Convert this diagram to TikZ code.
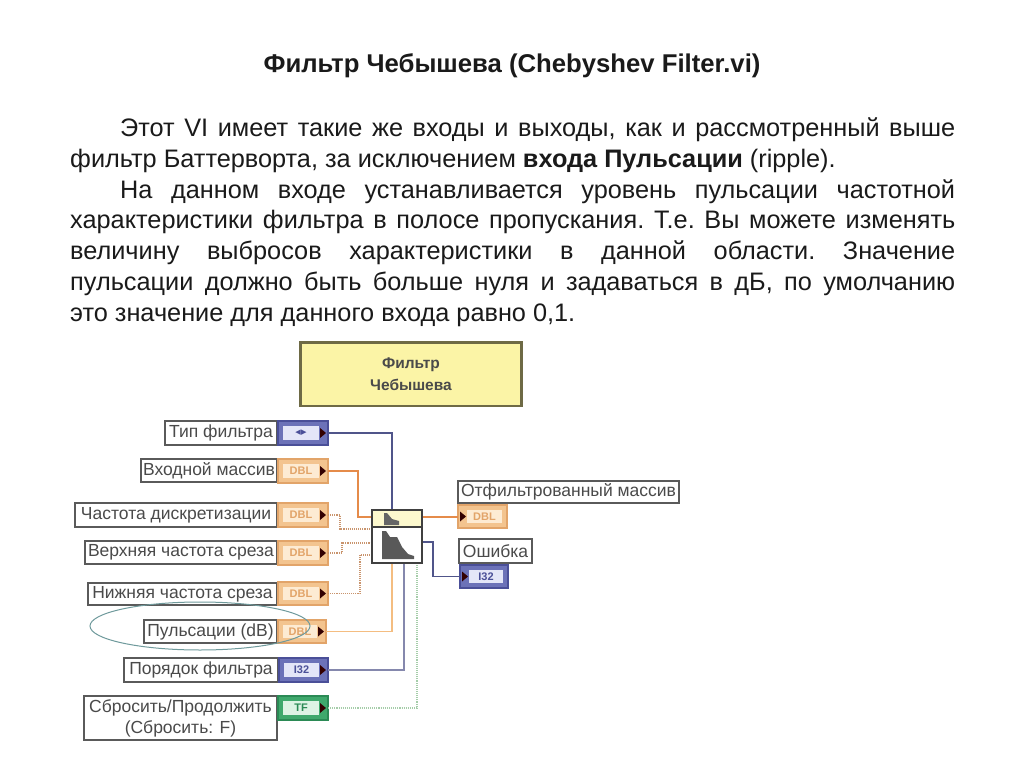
\documentclass[tikz,border=0pt]{standalone}
\usepackage{fontspec}
\usetikzlibrary{shapes.geometric}
\setmainfont{Liberation Sans}
\newfontfamily\djfont{DejaVu Sans}
\definecolor{txt}{HTML}{1A1A1A}
\definecolor{lbl}{HTML}{5A5A5A}
\definecolor{lbltxt}{HTML}{4A4A4A}
\definecolor{orT}{HTML}{F3C48F}
\definecolor{orB}{HTML}{E2A469}
\definecolor{orI}{HTML}{FDEBD3}
\definecolor{orW}{HTML}{E58B4A}
\definecolor{blT}{HTML}{6C72B8}
\definecolor{blB}{HTML}{4A4F98}
\definecolor{blI}{HTML}{E4E6F8}
\definecolor{blW}{HTML}{50558A}
\definecolor{grT}{HTML}{3FA86C}
\definecolor{grB}{HTML}{2B8A55}
\definecolor{grI}{HTML}{DDF3E4}
\definecolor{grW}{HTML}{A5CDA9}
\definecolor{yel}{HTML}{FBF4A6}
\definecolor{ylB}{HTML}{6E6A45}
\definecolor{ell}{HTML}{6F9A9C}
\tikzset{
  x=1pt,y=-1pt,
  lblbox/.style={draw=lbl,line width=1.8pt,fill=white,inner sep=0pt,text=lbltxt,font=\fontsize{17.5}{21}\selectfont,align=center},
  termbox/.style={line width=1.2pt,inner sep=0pt},
  termin/.style={inner sep=0pt,font=\fontsize{11}{12}\selectfont\bfseries},
  wthick/.style={line width=2pt,orW},
  wthin/.style={line width=1.1pt,orW!70!white!85!black,densely dotted},
  wlight/.style={line width=1.8pt,orT!90!orange},
  wblue/.style={line width=1.5pt,blW},
  wblue2/.style={line width=2pt,blW!70!white},
  wgreen/.style={line width=1.1pt,grW,densely dotted},
  tip/.style={fill=black!80!red},
}
% box: name, x0, y0, x1, y1, options, text
\newcommand{\bx}[7]{\node[#6,anchor=north west,outer sep=0pt,minimum width=#4pt-#2pt,minimum height=#5pt-#3pt] (#1) at (#2,#3) {#7};}
% terminal: name, x0,y0,x1,y1, colour prefix, text
\newcommand{\termR}[7]{%
  \bx{#1}{#2}{#3}{#4}{#5}{termbox,draw=#6B,fill=#6T}{}
  \fill[#6I] (#2+5,#3+5) rectangle (#4-9,#5-5);
  \node[termin,text=#6B] at (#2/2+#4/2-2,#3/2+#5/2) {#7};
  \fill[tip] (#4-8,#3/2+#5/2-5) -- (#4-2,#3/2+#5/2) -- (#4-8,#3/2+#5/2+5) -- cycle;
  \coordinate (#1o) at (#4,#3/2+#5/2);}
\newcommand{\termL}[7]{%
  \bx{#1}{#2}{#3}{#4}{#5}{termbox,draw=#6B,fill=#6T}{}
  \fill[#6I] (#2+9,#3+5) rectangle (#4-5,#5-5);
  \node[termin,text=#6B] at (#2/2+#4/2+2,#3/2+#5/2) {#7};
  \fill[tip] (#2+2,#3/2+#5/2-5) -- (#2+8,#3/2+#5/2) -- (#2+2,#3/2+#5/2+5) -- cycle;
  \coordinate (#1i) at (#2,#3/2+#5/2);}
\begin{document}
\begin{tikzpicture}
\useasboundingbox (0,0) rectangle (1024,767);
\fill[white] (0,0) rectangle (1024,767);

\node[text=txt,font=\fontsize{25.7}{30}\selectfont\bfseries] (title) at (512,66) {Фильтр Чебышева (Chebyshev Filter.vi)};

\node[anchor=north west,inner sep=0pt,text width=885pt,align=justify,text=txt,font=\fontsize{25.3}{30.8}\selectfont] (body) at (70,117.5) {%
\setlength{\parindent}{50pt}\setlength{\parskip}{0pt}\frenchspacing\indent
Этот VI имеет такие же входы и выходы, как и рассмотренный выше\linebreak
фильтр Баттерворта, за исключением \textbf{входа Пульсации} (ripple).\par
На данном входе устанавливается уровень пульсации частотной\linebreak
характеристики фильтра в полосе пропускания. Т.е. Вы можете изменять\linebreak
величину выбросов характеристики в данной области. Значение\linebreak
пульсации должно быть больше нуля и задаваться в дБ, по умолчанию\linebreak
это значение для данного входа равно 0,1.\par};

\bx{head}{300.5}{342.5}{521.5}{406}{draw=ylB,line width=2.4pt,fill=yel,inner sep=0pt,text=lbltxt,align=center,font=\fontsize{15.5}{22}\selectfont\bfseries}{Фильтр\\Чебышева}

% input labels
\bx{l1}{165}{421}{277}{445}{lblbox}{Тип фильтра}
\bx{l2}{141}{459}{277}{482}{lblbox}{Входной массив}
\bx{l3}{75}{503}{277}{527}{lblbox}{Частота дискретизации}
\bx{l4}{85}{541}{277}{564}{lblbox}{Верхняя частота среза}
\bx{l5}{88}{583}{277}{605}{lblbox}{Нижняя частота среза}
\bx{l6}{144}{620}{277}{643}{lblbox}{Пульсации (dB)}
\bx{l7}{124}{658}{278}{682}{lblbox}{Порядок фильтра}
\bx{l8}{84}{696}{277}{740}{lblbox}{Сбросить/Продолжить\\(Сбросить: F)}

% input terminals
\termR{t1}{278}{421}{328}{445}{bl}{\djfont ◂▸}
\termR{t2}{278}{459}{328}{483}{or}{DBL}
\termR{t3}{278}{503}{328}{527}{or}{DBL}
\termR{t4}{278}{541}{328}{565}{or}{DBL}
\termR{t5}{278}{582}{328}{605}{or}{DBL}
\termR{t6}{278}{620}{326}{643}{or}{DBL}
\termR{t7}{279}{658}{328}{682}{bl}{I32}
\termR{t8}{278}{696}{328}{720}{gr}{TF}

% output labels and terminals
\bx{l9}{458}{481}{679}{503}{lblbox}{Отфильтрованный массив}
\termL{t9}{458}{505}{507}{528}{or}{DBL}
\bx{l10}{459}{539}{532}{563}{lblbox}{Ошибка}
\termL{t10}{460}{565}{508}{588}{bl}{I32}

% the VI
\coordinate (vi1) at (372,517);
\coordinate (vi2) at (372,529);
\coordinate (vi3) at (372,543);
\coordinate (vi4) at (372,555);
\coordinate (vit) at (392,510);
\coordinate (vib1) at (392,563);
\coordinate (vib2) at (404,563);
\coordinate (vib3) at (417,563);
\coordinate (vio1) at (422,516.5);
\coordinate (vio2) at (422,542);

\draw[wblue] (t1o) -| (vit);
\draw[wthick] (t2o) -- (358,471) |- (vi1);
\draw[wthin] (t3o) -- (340,515) |- (vi2);
\draw[wthin] (t4o) -- (342,553) |- (vi3);
\draw[wthin] (t5o) -- (360,593.5) |- (vi4);
\draw[wlight] (t6o) -| (vib1);
\draw[wblue2] (t7o) -| (vib2);
\draw[wgreen] (t8o) -| (vib3);
\draw[wthick] (vio1) -- (t9i);
\draw[wblue] (vio2) -- (433,542) |- (t10i);

\bx{vi}{372}{510}{422}{563}{draw=black!75,line width=1.6pt,fill=white,inner sep=0pt}{}
\fill[yel!55] (373,511) rectangle (421,527);
\draw[black!75,line width=1.4pt] (372,527) -- (422,527);
% small response icon
\fill[black!60] (384,513) -- (387,513) -- (392,519) -- (399,521) -- (399,525) -- (384,525) -- cycle;
% large response icon
\fill[black!65] (382,531) -- (386,531) -- (390,537) -- (397,537) -- (402,547) -- (408,554) -- (414,556) -- (414,559) -- (382,559) -- cycle;

\node[draw=ell,line width=1pt,ellipse,minimum width=220pt,minimum height=48pt,inner sep=0pt] (mark) at (200,626) {};
\end{tikzpicture}
\end{document}
